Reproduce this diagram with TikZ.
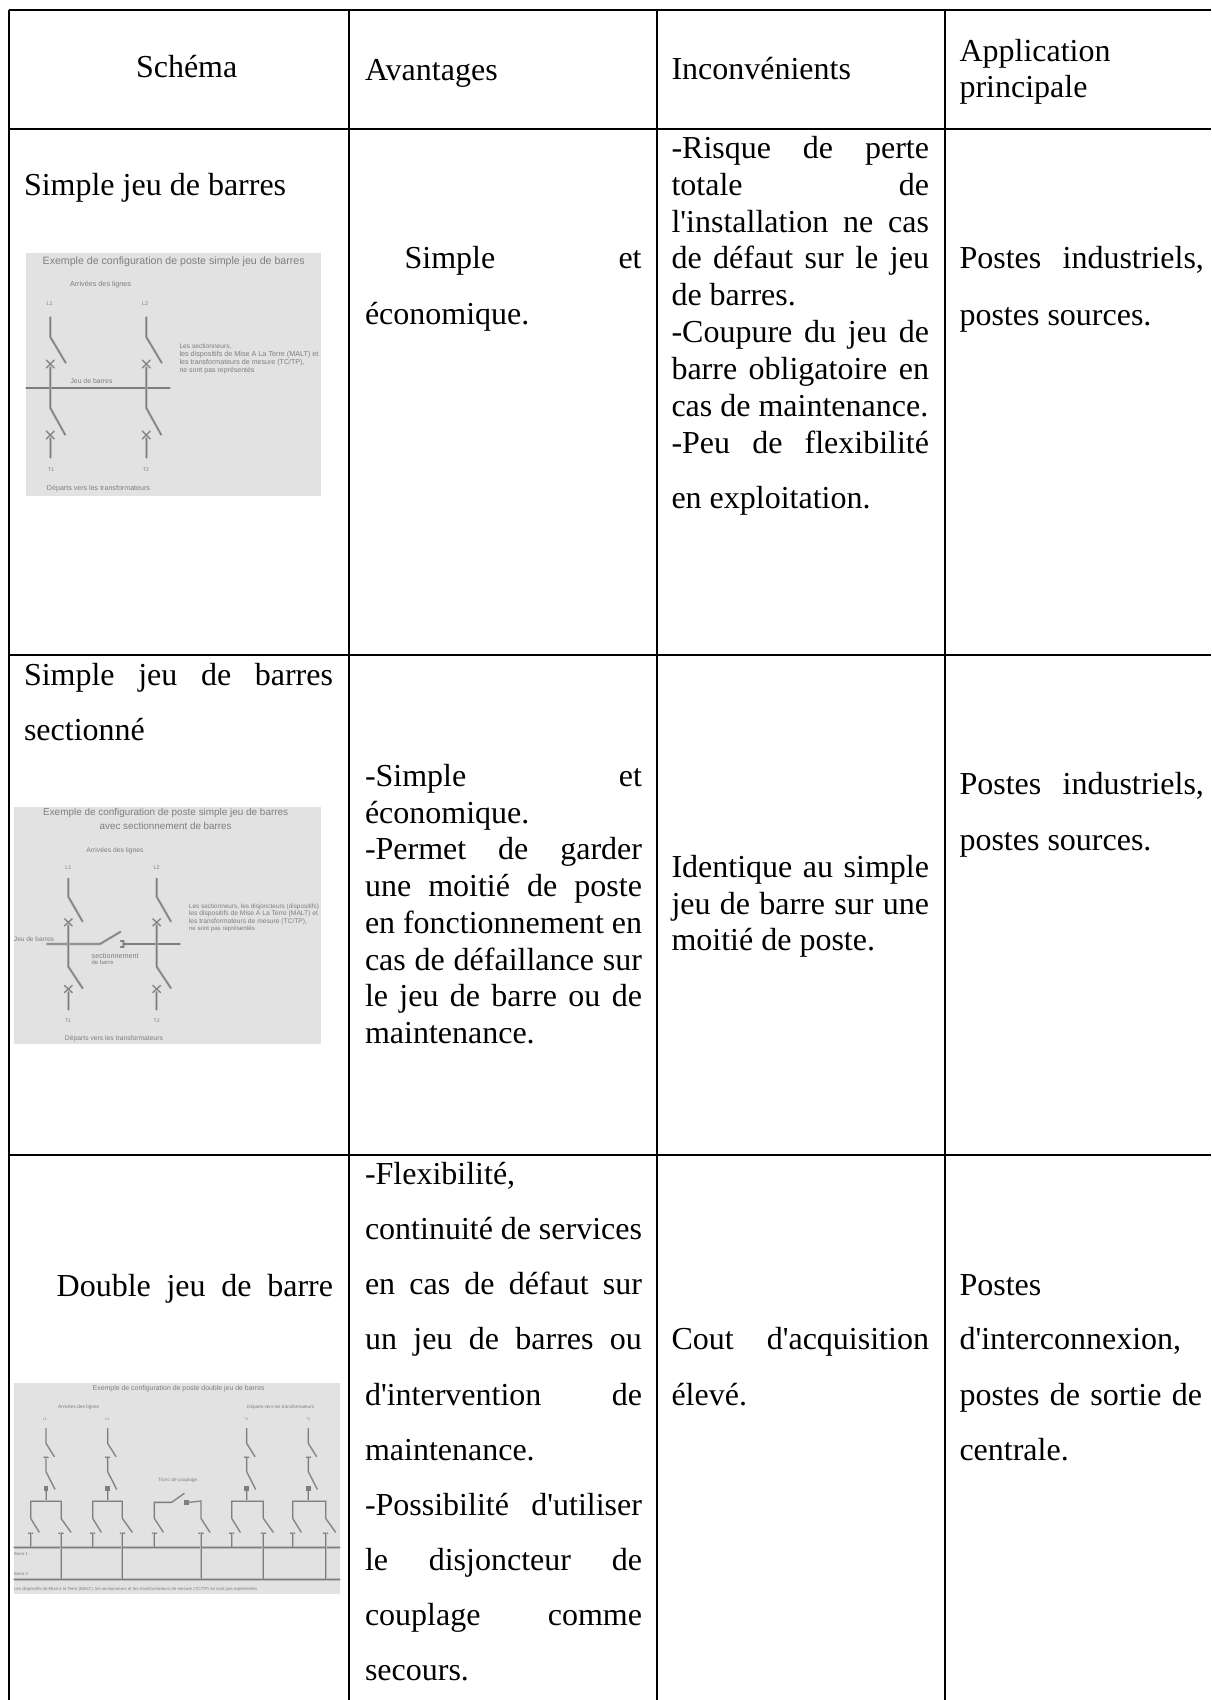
\documentclass[tikz,border=0pt]{standalone}
\usepackage{fontspec}
\setsansfont{Liberation Sans}
\newfontfamily\bodyfont{Liberation Serif}
\definecolor{imgbg}{HTML}{E2E2E2}
\definecolor{imgink}{HTML}{7E7E7E}
\definecolor{imghalo}{HTML}{B9B9B9}
\tikzset{
  rule/.style={line width=2pt,black},
  tx/.style={anchor=base west,inner sep=0pt,outer sep=0pt,font=\bodyfont\fontsize{32}{36.8}\selectfont,text=black},
  photo/.style={fill=imgbg,draw=none},
  wire/.style={draw=imgink,line width=1.2pt,line cap=round,line join=round,preaction={draw=imghalo,line width=2.6pt}},
  thinwire/.style={draw=imgink,line width=.9pt,line cap=round,line join=round,preaction={draw=imghalo,line width=1.8pt}},
  imgtext/.style={inner sep=0pt,outer sep=0pt,text=imgink,anchor=center},
  imgleft/.style={inner sep=0pt,outer sep=0pt,text=imgink,anchor=west},
}
\newcommand\tl[4]{\node[tx] (#1) at (#2,#3) {#4};}
\newcommand\tj[5]{\node[tx] (#1) at (#2,#3) {\makebox[#4pt][s]{#5}};}
\newcommand\imgtxt[5]{\node[imgtext] (#1) at (#2,#3) {\resizebox{#4pt}{!}{\sffamily #5}};}
\newcommand\imgnote[5]{\node[imgleft] (#1) at (#2,#3) {\resizebox{#4pt}{!}{\sffamily #5}};}
\begin{document}
\begin{tikzpicture}[x=1pt,y=-1pt]
\useasboundingbox (0,0) rectangle (1211,1700);
\fill[white] (0,0) rectangle (1211,1700);
% --- grid
\foreach \yy in {10,128.5,655,1155} \draw[rule] (8.5,\yy) -- (1211,\yy);
\foreach \xx in {9,349,656.5,944.5} \draw[rule] (\xx,10) -- (\xx,1700);
% --- header
\tl{hA}{136}{77}{Schéma}
\tl{hB}{365}{80}{Avantages}
\tl{hC}{671.5}{79.5}{Inconvénients}
\tl{hD}{959.5}{61.7}{Application}
\tl{hE}{959.5}{97}{principale}
% --- row 1
\tl{aA}{24}{195}{Simple jeu de barres}
\tj{aB}{404.6}{268.5}{237}{Simple et}
\tl{aC}{365}{324.7}{économique.}
\tj{aD1}{671.5}{158.7}{257.5}{-Risque de perte}
\tj{aD2}{671.5}{195.4}{257.5}{totale de}
\tj{aD3}{671.5}{232.1}{257.5}{l'installation ne cas}
\tj{aD4}{671.5}{268.8}{257.5}{de défaut sur le jeu}
\tl{aD5}{671.5}{305.5}{de barres.}
\tj{aD6}{671.5}{342.2}{257.5}{-Coupure du jeu de}
\tj{aD7}{671.5}{379}{257.5}{barre obligatoire en}
\tl{aD8}{671.5}{416}{cas de maintenance.}
\tj{aD9}{671.5}{453.3}{257.5}{-Peu de flexibilité}
\tl{aD10}{671.5}{508.3}{en exploitation.}
\tj{aE1}{959.5}{268.5}{244.5}{Postes industriels,}
\tl{aE2}{959.5}{325}{postes sources.}
% --- row 2
\tj{bA1}{24}{685}{309}{Simple jeu de barres}
\tl{bA2}{24}{740}{sectionné}
\tj{bB1}{365}{786.7}{277}{-Simple et}
\tl{bB2}{365}{823}{économique.}
\tj{bB3}{365}{859.7}{277}{-Permet de garder}
\tj{bB4}{365}{896.8}{277}{une moitié de poste}
\tj{bB5}{365}{933.5}{277}{en fonctionnement en}
\tj{bB6}{365}{970.2}{277}{cas de défaillance sur}
\tj{bB7}{365}{1006.9}{277}{le jeu de barre ou de}
\tl{bB8}{365}{1043.4}{maintenance.}
\tj{bC1}{671.5}{877}{257.5}{Identique au simple}
\tj{bC2}{671.5}{914}{257.5}{jeu de barre sur une}
\tl{bC3}{671.5}{950.7}{moitié de poste.}
\tj{bD1}{959.5}{794}{244.5}{Postes industriels,}
\tl{bD2}{959.5}{850.7}{postes sources.}
% --- row 3
\tj{cA}{56.7}{1296}{276.3}{Double jeu de barre}
\tl{cB1}{365}{1184}{-Flexibilité,}
\tj{cB2}{365}{1239}{277}{continuité de services}
\tj{cB3}{365}{1294.5}{277}{en cas de défaut sur}
\tj{cB4}{365}{1349.5}{277}{un jeu de barres ou}
\tj{cB5}{365}{1405}{277}{d'intervention de}
\tl{cB6}{365}{1460}{maintenance.}
\tj{cB7}{365}{1515.7}{277}{-Possibilité d'utiliser}
\tj{cB8}{365}{1570.7}{277}{le disjoncteur de}
\tj{cB9}{365}{1625.7}{277}{couplage comme}
\tl{cB10}{365}{1680.7}{secours.}
\tj{cC1}{671.5}{1349.5}{257.5}{Cout d'acquisition}
\tl{cC2}{671.5}{1405}{élevé.}
\tl{cD1}{959.5}{1295}{Postes}
\tl{cD2}{959.5}{1349.5}{d'interconnexion,}
\tj{cD3}{959.5}{1405}{242.5}{postes de sortie de}
\tl{cD4}{959.5}{1460}{centrale.}
% --- image 1
\fill[photo] (26,252.7) rectangle (321,495.7);
\imgtxt{p1t}{173.7}{261.5}{262}{Exemple de configuration de poste simple jeu de barres}
\imgtxt{p1a}{100.5}{285}{61}{Arrivées des lignes}
\imgtxt{p1l1}{49.5}{304}{6}{L1}
\imgtxt{p1l2}{145}{304}{6}{L2}
\imgtxt{p1j}{91.5}{381}{42}{Jeu de barres}
\imgnote{p1n1}{179.5}{346.7}{52}{Les sectionneurs,}
\imgnote{p1n2}{179.5}{354.8}{139}{les dispositifs de Mise A La Terre (MALT) et}
\imgnote{p1n3}{179.5}{362.8}{125}{les transformateurs de mesure (TC/TP),}
\imgnote{p1n4}{179.5}{370.7}{75}{ne sont pas représentés}
\imgtxt{p1t1}{51}{470}{6}{T1}
\imgtxt{p1t2}{146}{470}{6}{T2}
\imgtxt{p1d}{98.5}{489}{103}{Départs vers les transformateurs}
\draw[wire] (26,388) -- (170,388);
\foreach \c in {50.3,146.3}{
  \draw[wire] (\c,317) -- (\c,337) -- ({\c+15.5},363);
  \draw[wire] (\c,367) -- (\c,408) -- ({\c+15},435);
  \draw[wire] (\c,438) -- (\c,458);
  \draw[thinwire] ({\c-4},360) -- ({\c+4},368) ({\c-4},368) -- ({\c+4},360);
  \draw[thinwire] ({\c-4},431) -- ({\c+4},439) ({\c-4},439) -- ({\c+4},431);
}
% --- image 2 (units: third of a pixel)
\fill[photo] (14,806.7) rectangle (321,1044);
\begin{scope}[shift={(0,790)},x=.33333pt,y=-.33333pt]
\imgtxt{p2t}{497}{70}{245}{Exemple de configuration de poste simple jeu de barres}
\imgtxt{p2u}{497}{108}{132}{avec sectionnement de barres}
\imgtxt{p2a}{345}{181}{57}{Arrivées des lignes}
\imgtxt{p2l1}{205}{234}{6}{L1}
\imgtxt{p2l2}{470}{234}{6}{L2}
\imgtxt{p2j}{102}{447}{40}{Jeu de barres}
\node[imgleft] (p2s1) at (275,497) {\resizebox{47pt}{!}{\sffamily sectionnement}};
\node[imgleft] (p2s2) at (275,518) {\resizebox{22pt}{!}{\sffamily de barre}};
\imgnote{p2n1}{567}{350}{130}{Les sectionneurs, les disjoncteurs (dispositifs)}
\imgnote{p2n2}{567}{372}{129}{les dispositifs de Mise A La Terre (MALT) et}
\imgnote{p2n3}{567}{395}{118}{les transformateurs de mesure (TC/TP),}
\imgnote{p2n4}{567}{418}{66}{ne sont pas représentés}
\imgtxt{p2t1}{205}{692}{6}{T1}
\imgtxt{p2t2}{470}{692}{6}{T2}
\imgtxt{p2d}{342}{747}{98}{Départs vers les transformateurs}
\draw[wire] (140,462) -- (300,462) -- (362,425);
\draw[wire] (362,453) -- (370,453) -- (370,462) -- (540,462) (362,471) -- (370,471) -- (370,462);
\foreach \c in {205,470}{
  \draw[wire] (\c,265) -- (\c,320) -- ({\c+43},395);
  \draw[wire] (\c,405) -- (\c,530) -- ({\c+43},595);
  \draw[wire] (\c,605) -- (\c,660);
  \draw[thinwire] ({\c-12},386) -- ({\c+12},408) ({\c-12},408) -- ({\c+12},386);
  \draw[thinwire] ({\c-12},586) -- ({\c+12},608) ({\c-12},608) -- ({\c+12},586);
}
\end{scope}
% --- image 3 (units: third of a pixel)
\fill[photo] (14,1382.7) rectangle (340,1594);
\begin{scope}[shift={(0,1330)},x=.33333pt,y=-.33333pt]
\imgtxt{p3t}{536}{175}{172}{Exemple de configuration de poste double jeu de barres}
\imgtxt{p3a}{236}{231}{41}{Arrivées des lignes}
\imgtxt{p3b}{842}{231}{67}{Départs vers les transformateurs}
\imgtxt{p3l1}{135}{268}{4}{L1}
\imgtxt{p3l2}{322}{268}{4}{L2}
\imgtxt{p3t1}{740}{268}{4}{T1}
\imgtxt{p3t2}{925}{268}{4}{T2}
\imgtxt{p3c}{533}{450}{39}{Tronc de couplage}
\imgnote{p3b1}{42}{672}{14}{Barre 1}
\imgnote{p3b2}{42}{732}{14}{Barre 2}
\imgnote{p3n}{42}{778}{243}{Les dispositifs de Mise à la Terre (MALT), les sectionneurs et les transformateurs de mesure (TC/TP) ne sont pas représentés}
\draw[wire] (42,652) -- (1020,652);
\draw[wire] (42,748) -- (1020,748);
\foreach \c/\l/\r in {138/92/183,323/278/367,740/695/790,925/878/977}{
  \draw[thinwire] (\c,295) -- (\c,340) -- ({\c+25},380);
  \draw[thinwire] ({\c-7},382) -- ({\c+7},382);
  \draw[thinwire] (\c,382) -- (\c,425) -- ({\c+27},478);
  \fill[imgink] ({\c-7},468) rectangle ({\c+7},482);
  \draw[thinwire] (\c,482) -- (\c,513);
  \draw[thinwire] (\l,565) -- (\l,513) -- (\r,513) -- (\r,565);
  \draw[thinwire] (\l,565) -- ({\l+26},607);
  \draw[thinwire] (\r,565) -- ({\r+30},607);
}
\foreach \q/\e in {92/652,278/652,463/652,695/652,878/652,183/748,367/748,603/748,790/748,977/748}{
  \draw[thinwire] ({\q-7},610) -- ({\q+7},610);
  \draw[thinwire] (\q,610) -- (\q,\e);
}
\draw[thinwire] (463,565) -- (463,517) -- (515,517) -- (553,490);
\draw[thinwire] (463,565) -- (490,607);
\fill[imgink] (553,511) rectangle (567,525);
\draw[thinwire] (567,517) -- (603,513) -- (603,565) -- (630,607);
\end{scope}
\end{tikzpicture}
\end{document}
